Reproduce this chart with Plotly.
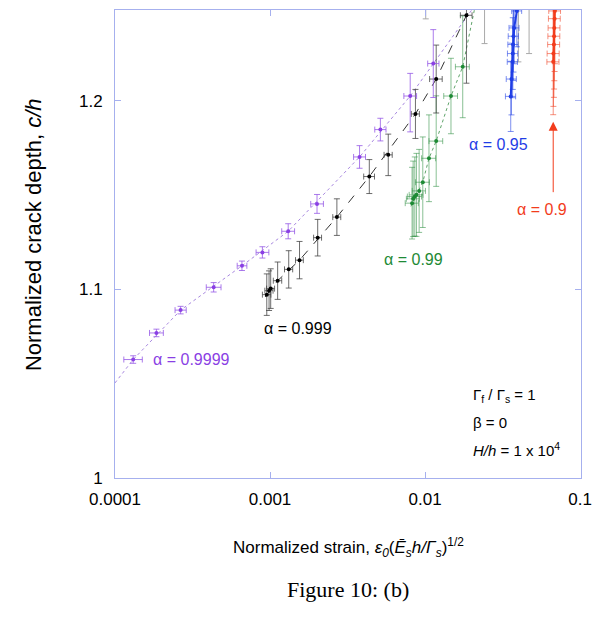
import numpy as np
import plotly.graph_objects as go

# ---------------- data ----------------
# alpha = 0.9999 (purple)
p_x = [1.31e-4, 1.85e-4, 2.65e-4, 4.33e-4, 6.59e-4, 8.93e-4, 1.31e-3, 2.01e-3, 3.78e-3, 5.15e-3, 8.02e-3, 1.13e-2]
p_y = [1.0628, 1.0769, 1.0890, 1.1011, 1.1125, 1.1196, 1.1308, 1.1453, 1.1702, 1.1847, 1.2025, 1.2197]
p_ey_up = [0.002, 0.002, 0.002, 0.0025, 0.0025, 0.003, 0.004, 0.005, 0.006, 0.006, 0.012, 0.018]
p_ey_dn = [0.002, 0.002, 0.002, 0.0025, 0.0025, 0.003, 0.004, 0.005, 0.006, 0.006, 0.019, 0.018]
p_ex_up = [1.9e-5, 2.0e-5, 2.3e-5, 5.0e-5, 5.0e-5, 9.0e-5, 1.3e-4, 2.0e-4, 3.5e-4, 4.5e-4, 8.0e-4, 1.0e-3]
p_ex_dn = [1.7e-5, 1.8e-5, 2.1e-5, 4.5e-5, 4.5e-5, 8.0e-5, 1.2e-4, 1.8e-4, 3.2e-4, 4.1e-4, 7.2e-4, 9.0e-4]
p_fit_x = [1.0e-4, 1.31e-4, 2.65e-4, 6.59e-4, 1.31e-3, 3.78e-3, 8.02e-3, 1.13e-2, 1.6e-2, 2.0e-2]
p_fit_y = [1.0504, 1.0628, 1.0890, 1.1125, 1.1308, 1.1702, 1.2025, 1.2197, 1.2370, 1.2481]

# alpha = 0.999 (black)
k_x = [9.53e-4, 9.86e-4, 1.01e-3, 1.12e-3, 1.32e-3, 1.55e-3, 2.03e-3, 2.70e-3, 4.37e-3, 5.79e-3, 8.67e-3, 1.18e-2, 1.85e-2]
k_y = [1.0972, 1.0993, 1.1004, 1.1046, 1.1106, 1.1155, 1.1274, 1.1383, 1.1598, 1.1713, 1.1930, 1.2115, 1.2453]
k_ey = [0.011, 0.0105, 0.0105, 0.0099, 0.0099, 0.0099, 0.0097, 0.0097, 0.009, 0.011, 0.013, 0.018, 0.036]
k_ex = [6e-5, 6e-5, 6e-5, 7e-5, 8e-5, 9e-5, 1.2e-4, 1.6e-4, 3.5e-4, 3.5e-4, 5.2e-4, 1.1e-3, 1.6e-3]
k_fit_x = [9.3e-4, 1.12e-3, 1.55e-3, 2.70e-3, 4.37e-3, 8.67e-3, 1.18e-2, 1.85e-2, 1.95e-2]
k_fit_y = [1.0960, 1.1046, 1.1155, 1.1383, 1.1598, 1.1930, 1.2115, 1.2453, 1.2481]

# alpha = 0.99 (green)
g_x = [8.25e-3, 8.38e-3, 8.59e-3, 8.80e-3, 9.16e-3, 9.67e-3, 1.06e-2, 1.18e-2, 1.47e-2, 1.75e-2]
g_y = [1.1457, 1.1480, 1.1492, 1.1501, 1.1522, 1.1568, 1.1695, 1.1786, 1.2025, 1.2180]
g_ey = [0.019, 0.020, 0.021, 0.022, 0.022, 0.024, 0.023, 0.024, 0.020, 0.027]
g_ex = [8e-4, 8e-4, 9e-4, 9e-4, 9e-4, 1.0e-3, 1.1e-3, 1.2e-3, 1.5e-3, 1.8e-3]
g_fit_x = [8.1e-3, 8.8e-3, 9.67e-3, 1.06e-2, 1.18e-2, 1.47e-2, 1.75e-2, 2.08e-2]
g_fit_y = [1.1440, 1.1501, 1.1568, 1.1695, 1.1786, 1.2025, 1.2180, 1.2481]

# alpha = 0.95 (blue)
b_x = [3.57e-2, 3.61e-2, 3.67e-2, 3.68e-2, 3.70e-2, 3.72e-2, 3.76e-2, 3.91e-2]
b_y = [1.2023, 1.2115, 1.2206, 1.2250, 1.2298, 1.2342, 1.2386, 1.2476]
b_ey = [0.0186, 0.019, 0.019, 0.019, 0.019, 0.019, 0.019, 0.019]
b_ex = [2.7e-3, 2.7e-3, 2.8e-3, 2.8e-3, 2.8e-3, 2.8e-3, 2.8e-3, 2.9e-3]

# alpha = 0.9 (red)
r_x = [6.71e-2, 6.73e-2, 6.78e-2, 6.80e-2, 6.82e-2, 6.85e-2, 6.88e-2]
r_y = [1.2206, 1.2250, 1.2298, 1.2342, 1.2386, 1.2435, 1.2476]
r_ey = [0.028, 0.028, 0.028, 0.028, 0.028, 0.028, 0.028]
r_ex = [6.0e-3, 6.0e-3, 6.0e-3, 6.0e-3, 6.0e-3, 6.0e-3, 6.0e-3]

# points just above the frame whose error bars hang into it
o_x = [1.01e-2, 2.42e-2, 4.0e-2, 4.69e-2]
o_y = [1.255, 1.260, 1.260, 1.260]
o_ey_dn = [0.0116, 0.0297, 0.0394, 0.035]

x_tick_vals = [1e-4, 1e-3, 1e-2, 1e-1]
x_tick_text = ["0.0001", "0.001", "0.01", "0.1"]
y_tick_vals = [1.0, 1.1, 1.2]
y_tick_text = ["1", "1.1", "1.2"]

PURPLE = "#8a3fe4"
GREEN = "#1e8a35"
BLUE = "#1f3de6"
RED = "#f23c1c"
AXIS = "#a6b0ee"
FONT = "Liberation Sans, Arial, sans-serif"

fig = go.Figure()

# fits
fig.add_trace(go.Scatter(x=p_fit_x, y=p_fit_y, mode="lines",
                         line=dict(color="#a888e0", width=1, dash="dot"), hoverinfo="skip"))
fig.add_trace(go.Scatter(x=g_fit_x, y=g_fit_y, mode="lines",
                         line=dict(color="#5fa46a", width=1, dash="dot"), hoverinfo="skip"))
fig.add_trace(go.Scatter(x=k_fit_x, y=k_fit_y, mode="lines",
                         line=dict(color="#333333", width=1, dash="dash"), hoverinfo="skip"))

# out-of-frame error bars
fig.add_trace(go.Scatter(x=o_x, y=o_y, mode="markers", marker=dict(size=1, color="rgba(0,0,0,0)"),
                         error_y=dict(type="data", symmetric=False, array=[0, 0, 0, 0], arrayminus=o_ey_dn,
                                      color="#a9a9a9", thickness=1, width=3)))

def add_series(x, y, ey_up, ey_dn, ex_up, ex_dn, color, ecolor, mode="markers", lw=1):
    fig.add_trace(go.Scatter(
        x=x, y=y, mode=mode,
        marker=dict(size=4, color=color),
        line=dict(color=color, width=lw),
        error_y=dict(type="data", symmetric=False, array=ey_up, arrayminus=ey_dn,
                     color=ecolor, thickness=1, width=3),
        error_x=dict(type="data", symmetric=False, array=ex_up, arrayminus=ex_dn,
                     color=ecolor, thickness=1, width=3),
    ))

add_series(g_x, g_y, g_ey, g_ey, g_ex, g_ex, GREEN, "rgba(40,140,60,0.55)")
add_series(k_x, k_y, k_ey, k_ey, k_ex, k_ex, "#000000", "rgba(60,60,60,0.75)")
add_series(p_x, p_y, p_ey_up, p_ey_dn, p_ex_up, p_ex_dn, PURPLE, "rgba(150,90,230,0.8)")
add_series(b_x, b_y, b_ey, b_ey, b_ex, b_ex, BLUE, "rgba(40,70,230,0.6)", mode="lines+markers", lw=2)
add_series(r_x, r_y, r_ey, r_ey, r_ex, r_ex, RED, "rgba(240,70,40,0.6)", mode="lines+markers", lw=2)

def lab(x, y, text, color, size=16, xanchor="center"):
    fig.add_annotation(x=np.log10(x), y=y, xref="x", yref="y", text=text, showarrow=False,
                       font=dict(family=FONT, size=size, color=color), xanchor=xanchor, yanchor="middle")

lab(0.0298, 1.1767, "α = 0.95", BLUE)
lab(0.057, 1.1423, "α = 0.9", RED)
lab(8.38e-3, 1.1159, "α = 0.99", GREEN)
lab(1.51e-3, 1.0794, "α = 0.999", "#000000")
lab(3.12e-4, 1.0630, "α = 0.9999", PURPLE)
lab(0.0197, 1.0439, "Γ<sub>f</sub> / Γ<sub>s</sub> = 1", "#000000", 15, "left")
lab(0.0197, 1.0296, "β = 0", "#000000", 15, "left")
lab(0.0197, 1.0153, "<i>H/h</i> = 1 x 10<sup>4</sup>", "#000000", 15, "left")

# red arrow
fig.add_annotation(x=np.log10(0.0671), y=1.1889, xref="x", yref="y", ax=0, ay=72,
                   showarrow=True, arrowhead=2, arrowsize=1.8, arrowwidth=1, arrowcolor=RED, text="")

# axis titles and caption
fig.add_annotation(x=0.5, y=-0.149, xref="paper", yref="paper", showarrow=False,
                   text="Normalized strain, <i>ε<sub>0</sub></i>(<i>Ē<sub>s</sub>h/Γ<sub>s</sub></i>)<sup>1/2</sup>",
                   font=dict(family=FONT, size=17, color="#000"), yanchor="middle")
fig.add_annotation(x=-0.175, y=0.52, xref="paper", yref="paper", showarrow=False, textangle=-90,
                   text="Normalized crack depth, <i>c/h</i>",
                   font=dict(family=FONT, size=22, color="#000"), xanchor="center", yanchor="middle")
fig.add_annotation(x=0.5, y=-0.239, xref="paper", yref="paper", showarrow=False,
                   text="Figure 10: (b)",
                   font=dict(family="Liberation Serif, DejaVu Serif, serif", size=22, color="#000"), yanchor="middle")

fig.update_xaxes(type="log", range=[-4, -0.994], tickvals=x_tick_vals, ticktext=x_tick_text,
                 showgrid=False, zeroline=False, showline=True, linecolor=AXIS, linewidth=1,
                 mirror="ticks", ticks="inside", ticklen=6, tickcolor=AXIS, ticklabelstandoff=6,
                 tickfont=dict(family=FONT, size=17, color="#000"))
fig.update_yaxes(range=[1.0, 1.2481], tickvals=y_tick_vals, ticktext=y_tick_text,
                 showgrid=False, zeroline=False, showline=True, linecolor=AXIS, linewidth=1,
                 mirror="ticks", ticks="inside", ticklen=6, tickcolor=AXIS, ticklabelstandoff=8,
                 tickfont=dict(family=FONT, size=17, color="#000"))

fig.update_layout(width=601, height=618, showlegend=False,
                  margin=dict(l=115, r=17, t=9, b=140),
                  paper_bgcolor="white", plot_bgcolor="white")

fig.write_html("out.html", config={"displayModeBar": False},
               post_script="document.body.style.margin='0px';document.body.style.overflow='hidden';")
